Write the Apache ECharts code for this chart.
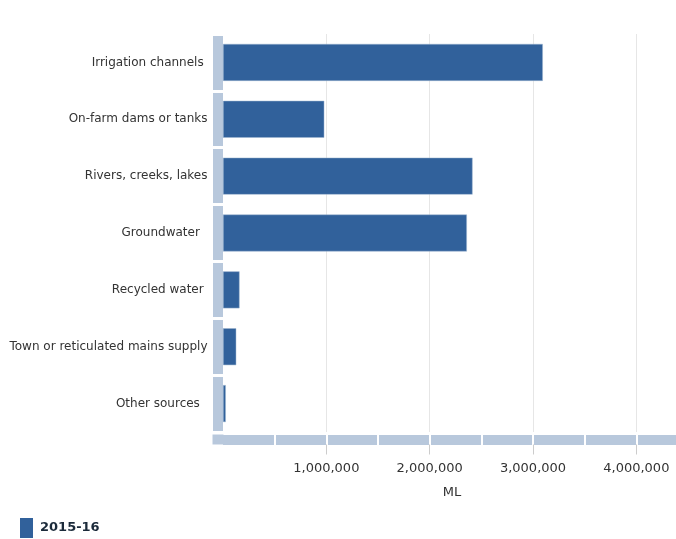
<!DOCTYPE html>
<html>
<head>
<meta charset="utf-8">
<script src="https://cdn.jsdelivr.net/npm/echarts@6/dist/echarts.min.js"></script>
<style>
html,body{margin:0;padding:0;background:#fff;}
#chart{width:676px;height:539px;}
</style>
</head>
<body>
<div id="chart"></div>
<script>
var categories = [
  "Irrigation channels ",
  "On-farm dams or tanks",
  "Rivers, creeks, lakes",
  "Groundwater  ",
  "Recycled water ",
  "Town or reticulated mains supply",
  "Other sources  "
];
var seriesName = "2015-16";
var values = [3095000, 980000, 2415000, 2360000, 160000, 128000, 27000];
var axisMin = 0;
var axisMax = 4500000;
var minorStep = 500000;
var majorStep = 1000000;
var minorTicks = [500000, 1000000, 1500000, 2000000, 2500000, 3000000, 3500000, 4000000, 4500000];
var majorTicks = [1000000, 2000000, 3000000, 4000000];

function fmt(v) {
  return String(v).replace(/\B(?=(\d{3})+(?!\d))/g, ',');
}

var chart = echarts.init(document.getElementById('chart'), null, {renderer: 'canvas'});
var font = 'DejaVu Sans, Verdana, sans-serif';
var lightBlue = '#b8c8dc';
chart.setOption({
  animation: false,
  textStyle: {fontFamily: font},
  grid: {left: 223, top: 34, width: 465, height: 398, containLabel: false, outerBoundsMode: 'none'},
  legend: {
    left: 20, top: 518, padding: 0,
    itemWidth: 13, itemHeight: 20,
    icon: 'rect',
    data: [seriesName],
    itemStyle: {borderWidth: 0},
    textStyle: {fontFamily: font, fontSize: 13, fontWeight: 'bold', color: '#1b2a3a', padding: [0, 0, 0, 2]}
  },
  yAxis: [
    {
      type: 'category', data: categories, inverse: true, position: 'left', offset: 5.5,
      axisLine: {show: true, onZero: false, lineStyle: {color: lightBlue, width: 10, cap: 'butt'}},
      axisTick: {show: true, inside: false, length: 6, lineStyle: {color: '#ffffff', width: 3}},
      axisLabel: {margin: 10, fontSize: 12, color: '#333333', fontFamily: font},
      splitLine: {show: false}
    },
    {
      type: 'category', data: categories, inverse: true, position: 'left', offset: 5.5,
      axisLine: {show: false, onZero: false},
      axisTick: {show: true, inside: true, length: 6, lineStyle: {color: '#ffffff', width: 3}},
      axisLabel: {show: false},
      splitLine: {show: false}
    }
  ],
  xAxis: [
    {
      type: 'value', min: axisMin, max: axisMax, interval: minorStep, position: 'bottom', offset: 7.5,
      axisLine: {show: true, onZero: false, symbol: ['rect', 'none'], symbolSize: [10, 11], symbolOffset: [-5, 0],
        lineStyle: {color: lightBlue, width: 10, cap: 'butt'}},
      axisTick: {show: true, inside: false, length: 6, customValues: minorTicks, lineStyle: {color: '#ffffff', width: 2}},
      axisLabel: {show: false},
      splitLine: {show: false}
    },
    {
      type: 'value', min: axisMin, max: axisMax, interval: minorStep, position: 'bottom', offset: 7.5,
      axisLine: {show: false, onZero: false},
      axisTick: {show: true, inside: true, length: 6, customValues: minorTicks, lineStyle: {color: '#ffffff', width: 2}},
      axisLabel: {show: false},
      splitLine: {show: false}
    },
    {
      type: 'value', min: axisMin, max: axisMax, interval: majorStep, position: 'bottom', offset: 12.5,
      name: 'ML', nameLocation: 'middle', nameGap: 42,
      nameTextStyle: {fontFamily: font, fontSize: 13, color: '#333333', padding: [0, 7, 0, 0]},
      axisLine: {show: false, onZero: false},
      axisTick: {show: true, inside: false, length: 10, customValues: majorTicks, lineStyle: {color: '#cccccc', width: 1}},
      axisLabel: {margin: 18, fontSize: 13, color: '#333333', fontFamily: font, customValues: majorTicks, formatter: fmt},
      splitLine: {show: true, lineStyle: {color: '#e6e6e6', width: 1}}
    }
  ],
  series: [
    {
      name: seriesName, type: 'bar', data: values,
      xAxisIndex: 2, yAxisIndex: 0,
      barCategoryGap: '35%',
      itemStyle: {color: '#31619b', borderColor: '#9fb6d0', borderWidth: 0.5}
    }
  ]
});
</script>
</body>
</html>
